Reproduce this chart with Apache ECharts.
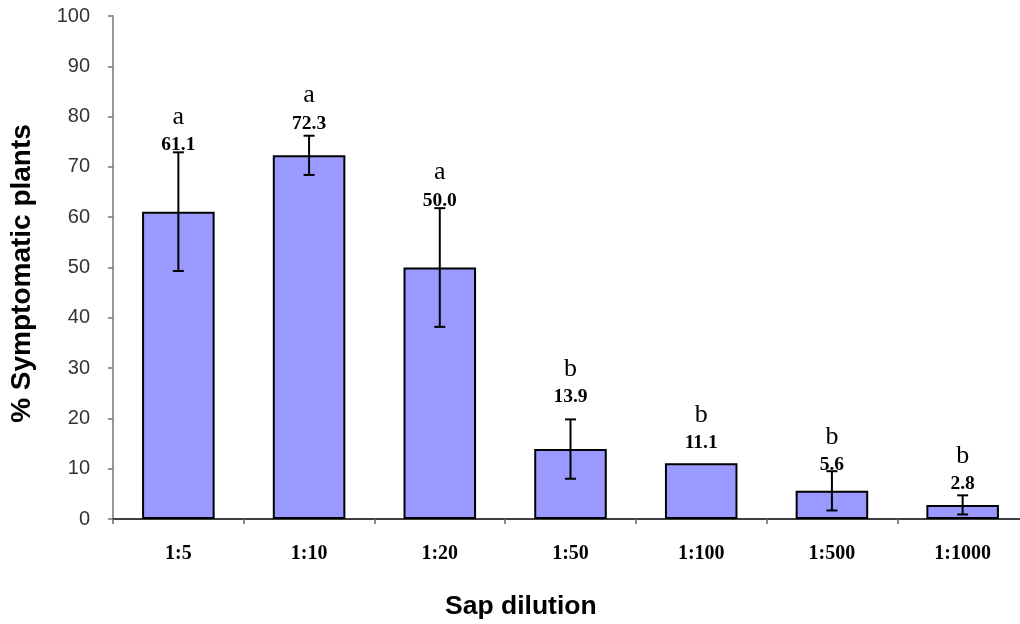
<!DOCTYPE html>
<html>
<head>
<meta charset="utf-8">
<script src="https://cdn.jsdelivr.net/npm/echarts@6/dist/echarts.min.js"></script>
<style>html,body{margin:0;padding:0;background:#fff;overflow:hidden;width:1020px;height:624px}#c{width:1030px;height:624px}</style>
</head>
<body>
<div id="c"></div>
<script>
const categories = ['1:5','1:10','1:20','1:50','1:100','1:500','1:1000'];
const values = [61.1, 72.3, 50.0, 13.9, 11.1, 5.6, 2.8];
const errors = [11.8, 3.9, 11.8, 5.9, 0, 3.9, 1.9];
const letters = ['a','a','a','b','b','b','b'];
const labelAt = [74.3, 78.6, 63.3, 24.2, 15.1, 10.8, 7.0];
const yTicks = [0,10,20,30,40,50,60,70,80,90,100];

const chart = echarts.init(document.getElementById('c'));
const errData = categories.map((c,i)=>[i, values[i], errors[i], labelAt[i]]);

chart.setOption({
  animation:false,
  title:{text:'Sap dilution', left:445, top:593, padding:0,
    textStyle:{fontFamily:'Liberation Sans, Arial',fontWeight:'bold',fontSize:26.5,color:'#000'}},
  grid:{left:113,right:2,top:16,bottom:105},
  xAxis:{
    type:'category', data:categories,
    axisLine:{lineStyle:{color:'#000',width:1.5}},
    axisTick:{show:true,length:5,lineStyle:{color:'#666',width:1.5}},
    axisLabel:{margin:25,fontFamily:'Liberation Serif, Times New Roman',fontWeight:'bold',fontSize:20,color:'#000',verticalAlign:'top'}
  },
  yAxis:{
    type:'value', min:0, max:100, interval:10,
    name:'% Symptomatic plants', nameLocation:'middle', nameGap:77,
    nameTextStyle:{fontFamily:'Liberation Sans, Arial',fontWeight:'bold',fontSize:28,color:'#000',padding:[0,0,0,-12]},
    axisLine:{show:true,lineStyle:{color:'#777',width:1.5}},
    axisTick:{show:true,length:5,lineStyle:{color:'#777',width:1.5}},
    splitLine:{show:false},
    axisLabel:{margin:23,fontFamily:'Liberation Sans, Arial',fontSize:20,color:'#333',
      formatter:v=>yTicks.includes(v)?String(v):''}
  },
  series:[
    {
      type:'bar', data:values, barWidth:'55.5%',
      itemStyle:{color:'#9999FF',borderColor:'#000',borderWidth:2}
    },
    {
      type:'custom', data:errData, z:5,
      renderItem:function(params, api){
        const i = api.value(0), v = api.value(1), e = api.value(2), la = api.value(3);
        const top = api.coord([i, v+e]);
        const bot = api.coord([i, v-e]);
        const lab = api.coord([i, la]);
        const cw = 5.5;
        const children = [];
        if (e > 0) {
          const st = {stroke:'#000', lineWidth:2};
          children.push({type:'line',shape:{x1:top[0],y1:top[1],x2:bot[0],y2:bot[1]},style:st});
          children.push({type:'line',shape:{x1:top[0]-cw,y1:top[1],x2:top[0]+cw,y2:top[1]},style:st});
          children.push({type:'line',shape:{x1:bot[0]-cw,y1:bot[1],x2:bot[0]+cw,y2:bot[1]},style:st});
        }
        children.push({type:'text',x:lab[0],y:lab[1],style:{
          text:values[params.dataIndex].toFixed(1),
          fontFamily:'Liberation Serif, Times New Roman',fontWeight:'bold',fontSize:19.5,fill:'#000',
          align:'center',verticalAlign:'middle'}});
        children.push({type:'text',x:lab[0],y:lab[1]-28,style:{
          text:letters[params.dataIndex],
          fontFamily:'Liberation Serif, Times New Roman',fontSize:26,fill:'#000',
          align:'center',verticalAlign:'middle'}});
        return {type:'group',children:children};
      }
    }
  ]
});
</script>
</body>
</html>
